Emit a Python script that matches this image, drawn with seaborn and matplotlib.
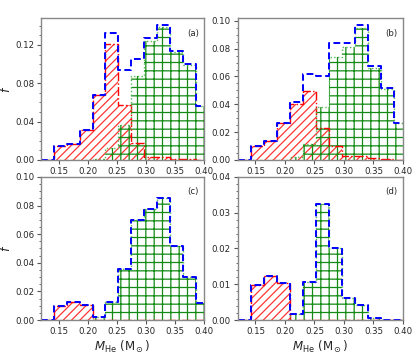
import numpy as np
import matplotlib
matplotlib.use("Agg")
import matplotlib.pyplot as plt
from matplotlib.ticker import MultipleLocator, AutoMinorLocator, FormatStrFormatter
import seaborn as sns

# === DATA (fractions per He-core-mass bin) ===
bin_start = 0.12
bin_width = 0.0221
n_bins = 13

# panel (a)
red_a = [0, 0.0142, 0.0162, 0.0315, 0.0675, 0.1206, 0.0570, 0.0178, 0.0030, 0.0025, 0.0012, 0.0010, 0.0]
green_a = [0, 0, 0, 0, 0.0008, 0.0124, 0.0360, 0.0875, 0.1240, 0.1388, 0.1125, 0.0995, 0.0567]
total_a = [0, 0.0142, 0.0162, 0.0315, 0.0678, 0.1327, 0.0935, 0.1056, 0.1268, 0.1410, 0.1137, 0.1005, 0.0567]

# panel (b)
red_b = [0, 0.0100, 0.0134, 0.0265, 0.0400, 0.0497, 0.0229, 0.0103, 0.0026, 0.0025, 0.0012, 0.0005, 0.0]
green_b = [0, 0, 0, 0, 0.0018, 0.0117, 0.0377, 0.0740, 0.0812, 0.0948, 0.0664, 0.0511, 0.0265]
total_b = [0, 0.0100, 0.0134, 0.0265, 0.0418, 0.0617, 0.0607, 0.0843, 0.0838, 0.0973, 0.0676, 0.0516, 0.0265]

# panel (c)
red_c = [0, 0.0096, 0.0124, 0.0108, 0, 0, 0, 0, 0, 0, 0, 0, 0]
green_c = [0, 0, 0, 0, 0.0023, 0.0124, 0.0357, 0.0700, 0.0777, 0.0850, 0.0516, 0.0300, 0.0120]
total_c = [0, 0.0096, 0.0124, 0.0108, 0.0023, 0.0124, 0.0357, 0.0700, 0.0777, 0.0850, 0.0516, 0.0300, 0.0120]

# panel (d)
red_d = [0, 0.0097, 0.0122, 0.0103, 0, 0, 0, 0, 0, 0, 0, 0, 0]
green_d = [0, 0, 0, 0, 0.0018, 0.0105, 0.0324, 0.0200, 0.0063, 0.0042, 0.0005, 0, 0]
total_d = [0, 0.0097, 0.0122, 0.0103, 0.0018, 0.0105, 0.0324, 0.0200, 0.0063, 0.0042, 0.0005, 0, 0]

panel_labels = ["(a)", "(b)", "(c)", "(d)"]
y_tops = [0.148, 0.102, 0.10, 0.04]
y_steps = [0.04, 0.02, 0.02, 0.01]
x_ticks = [0.15, 0.20, 0.25, 0.30, 0.35, 0.40]

bin_edges = list(bin_start + bin_width * np.arange(n_bins + 1))
bin_centers = [0.5 * (a + b) for a, b in zip(bin_edges[:-1], bin_edges[1:])]

# === STYLE ===
sns.set_theme(style="ticks")
plt.rcParams["font.family"] = ["DejaVu Sans"]
plt.rcParams["hatch.linewidth"] = 0.9
plt.rcParams["mathtext.fontset"] = "dejavusans"

fig = plt.figure(figsize=(4.15, 3.56), dpi=100)
boxes = [
    [0.099, 0.551, 0.393, 0.398],
    [0.573, 0.551, 0.398, 0.398],
    [0.099, 0.101, 0.393, 0.402],
    [0.573, 0.101, 0.398, 0.402],
]
panels = [
    (red_a, green_a, total_a),
    (red_b, green_b, total_b),
    (red_c, green_c, total_c),
    (red_d, green_d, total_d),
]


def draw_panel(ax, red, green, total):
    # hatched bars
    sns.histplot(x=bin_centers, weights=red, bins=bin_edges, ax=ax,
                 element="bars", fill=True, facecolor="none",
                 edgecolor="#ff3535", hatch="////", linewidth=0)
    sns.histplot(x=bin_centers, weights=green, bins=bin_edges, ax=ax,
                 element="bars", fill=True, facecolor="none",
                 edgecolor="#138a13", hatch="++", linewidth=0)
    # outlines
    sns.histplot(x=bin_centers, weights=red, bins=bin_edges, ax=ax,
                 element="step", fill=False, color="red",
                 linestyle="-.", linewidth=1.0)
    sns.histplot(x=bin_centers, weights=green, bins=bin_edges, ax=ax,
                 element="step", fill=False, color="#55bb55",
                 linestyle=":", linewidth=1.0)
    sns.histplot(x=bin_centers, weights=total, bins=bin_edges, ax=ax,
                 element="step", fill=False, color="blue",
                 linestyle=(0, (3.5, 1.8)), linewidth=1.4)


for i, (box, (red, green, total)) in enumerate(zip(boxes, panels)):
    ax = fig.add_axes(box)
    draw_panel(ax, red, green, total)

    ax.set_xlim(0.12, 0.40)
    ax.set_ylim(0, y_tops[i])
    ax.set_xticks(x_ticks)
    ax.xaxis.set_major_formatter(FormatStrFormatter("%.2f"))
    ax.yaxis.set_major_locator(MultipleLocator(y_steps[i]))
    ax.yaxis.set_minor_locator(AutoMinorLocator())
    ax.yaxis.set_major_formatter(FormatStrFormatter("%.2f"))
    ax.tick_params(which="major", labelsize=6.2, length=3, width=0.8,
                   color="#555555", pad=2)
    ax.tick_params(which="minor", length=1.8, width=0.6, color="#555555")
    for sp in ax.spines.values():
        sp.set_visible(True)
        sp.set_color("#888888")
        sp.set_linewidth(1.0)

    ax.text(0.93, 0.895, panel_labels[i], transform=ax.transAxes,
            ha="center", va="center", fontsize=6.2)

    if i % 2 == 0:
        ax.set_ylabel("$f$", fontsize=9)
        ax.yaxis.set_label_coords(-0.17, 0.5)
    else:
        ax.set_ylabel("")
    if i >= 2:
        ax.set_xlabel(r"$M_{\rm He}$ (M$_\odot$)", fontsize=8.5, labelpad=2)
    else:
        ax.set_xlabel("")

fig.savefig("out.png", dpi=100)
